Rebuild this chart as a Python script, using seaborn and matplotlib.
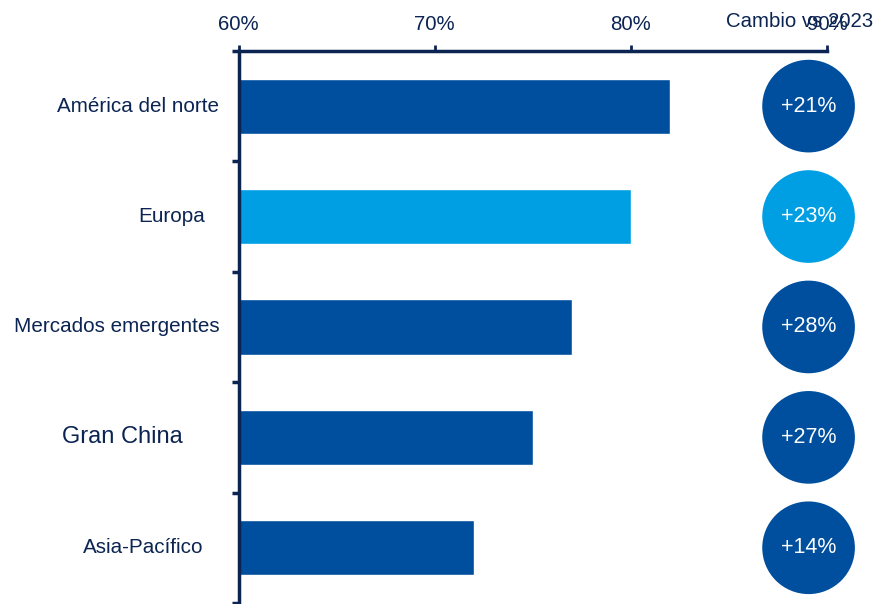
import matplotlib
matplotlib.use("Agg")
import matplotlib.pyplot as plt
import seaborn as sns
import pandas as pd

# Data
regions = ["América del norte", "Europa", "Mercados emergentes", "Gran China", "Asia-Pacífico"]
shares = [82.0, 80.0, 77.0, 75.0, 72.0]
changes = ["+21%", "+23%", "+28%", "+27%", "+14%"]
x_ticks = [60, 70, 80, 90]
x_tick_labels = ["60%", "70%", "80%", "90%"]
header = "Cambio vs 2023"

DARK = "#004F9E"
LIGHT = "#009FE3"
NAVY = "#0B2452"
colors = [LIGHT if r == "Europa" else DARK for r in regions]

sns.set_theme(style="white")
plt.rcParams["font.family"] = ["Liberation Sans", "DejaVu Sans"]

df = pd.DataFrame({"region": regions, "share": shares})

fig = plt.figure(figsize=(8.77, 6.04), dpi=100)
ax = fig.add_axes([0.272, 0.0017, 0.671, 0.914])

sns.barplot(data=df, x="share", y="region", hue="region", palette=colors,
            legend=False, width=0.5, saturation=1, ax=ax, orient="h")

ax.set_xlim(60, 90)
ax.set_ylim(4.5, -0.5)
ax.set_xlabel("")
ax.set_ylabel("")

# Axis on top
ax.xaxis.tick_top()
ax.set_xticks(x_ticks)
ax.set_xticklabels(x_tick_labels)
ax.tick_params(axis="x", which="major", direction="out", length=4, width=2,
               color=NAVY, labelsize=14.7, labelcolor=NAVY, pad=8, top=True, bottom=False)

# Category boundaries as ticks on the left spine; labels drawn separately
ax.set_yticks([i - 0.5 for i in range(len(regions) + 1)])
ax.set_yticklabels([])
ax.tick_params(axis="y", direction="out", length=5, width=2.5, color=NAVY, left=True)

for side in ["right", "bottom"]:
    ax.spines[side].set_visible(False)
ax.spines["top"].set_color(NAVY)
ax.spines["top"].set_linewidth(2.5)
ax.spines["left"].set_color(NAVY)
ax.spines["left"].set_linewidth(2.5)

# Category labels with individual offsets from the spine
label_offsets = [-20, -34, -19, -56, -35]
label_sizes = [14.9, 14.9, 14.9, 17, 14.9]
for i, (name, off, fs) in enumerate(zip(regions, label_offsets, label_sizes)):
    ax.annotate(name, xy=(0, i), xycoords=("axes fraction", "data"),
                xytext=(off * 0.72, 0), textcoords="offset points",
                ha="right", va="center", fontsize=fs, color=NAVY)

# Change badges
badge_x = 89.06
ax.scatter([badge_x] * len(regions), list(range(len(regions))), s=4450,
           c=colors, clip_on=False, zorder=5, linewidths=0)
for i, txt in enumerate(changes):
    ax.text(badge_x, i, txt, ha="center", va="center", color="white",
            fontsize=15.5, zorder=6)

fig.text(726.5 / 877, 1 - 27 / 604, header, ha="left", va="baseline",
         fontsize=14.7, color=NAVY)

fig.savefig("out.png", dpi=100)
